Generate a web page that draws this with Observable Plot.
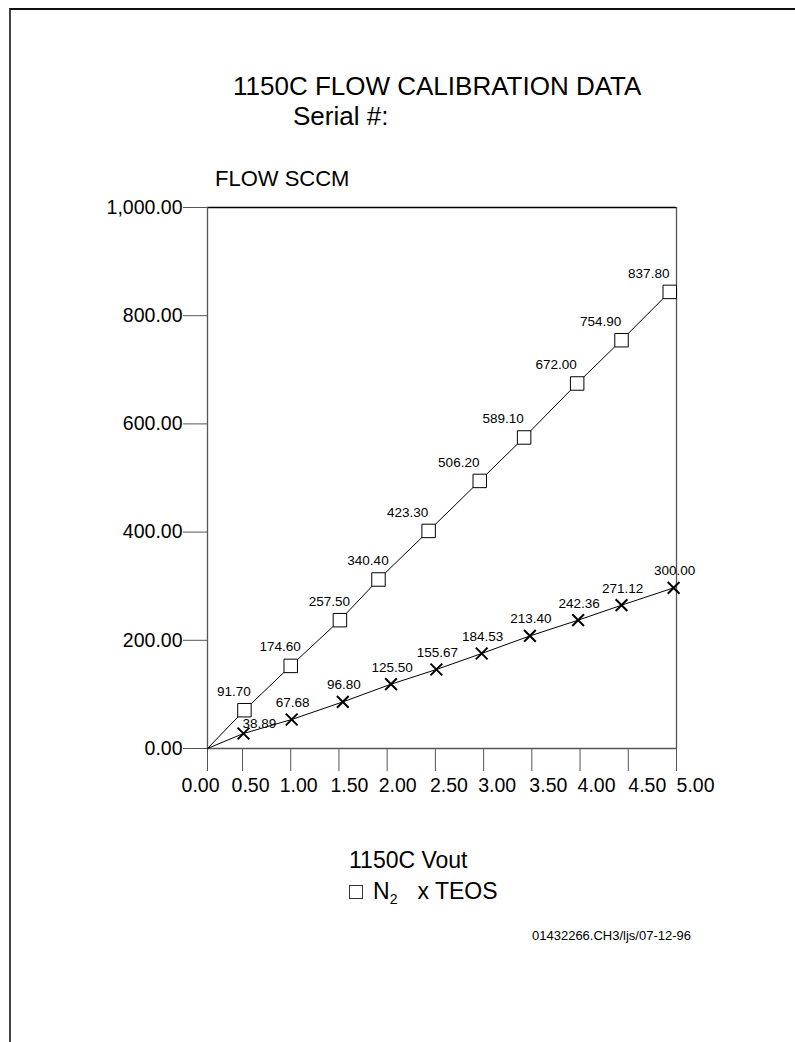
<!DOCTYPE html>
<html>
<head>
<meta charset="utf-8">
<script src="https://cdn.jsdelivr.net/npm/d3@7"></script>
<script src="https://cdn.jsdelivr.net/npm/@observablehq/plot@0.6"></script>
<style>
  body { margin: 0; background: #fff; font-family: Arial, "Liberation Sans", sans-serif; color: #000; }
  #page { position: relative; width: 795px; height: 1042px; overflow: hidden; }
  .border { position: absolute; left: 9px; top: 8px; right: -5px; bottom: -5px; border-left: 2px solid #444; border-top: 2px solid #111; }
  .t { position: absolute; white-space: nowrap; line-height: 1; }
  #chart { position: absolute; left: 0; top: 0; }
  .sw { display: inline-block; width: 12px; height: 12px; border: 1px solid #333; vertical-align: baseline; margin-right: 10px; }
  sub { font-size: 14px; vertical-align: -5px; line-height: 0; }
</style>
</head>
<body>
<div id="page">
  <div class="border"></div>
  <div id="chart"></div>
  <div class="t" style="left:233px; top:73px; font-size:26px;">1150C FLOW CALIBRATION DATA</div>
  <div class="t" style="left:293px; top:103px; font-size:26px;">Serial #:</div>
  <div class="t" style="left:215px; top:168px; font-size:22px;">FLOW SCCM</div>
  <div class="t" style="left:349px; top:849px; font-size:23px;">1150C Vout</div>
  <div class="t" style="left:349px; top:880px; font-size:23px;"><span class="sw"></span>N<sub>2</sub><span style="margin-left:20px">x TEOS</span></div>
  <div class="t" style="left:532px; top:929px; font-size:13px;">01432266.CH3/ljs/07-12-96</div>
</div>
<script>
// ---- data ----
const xTicks = [0, 0.5, 1, 1.5, 2, 2.5, 3, 3.5, 4, 4.5, 5];
const yTicks = [0, 200, 400, 600, 800, 1000];

// N2 series (Vout, plotted flow, printed label)
const n2Vout   = [0, 0.52, 1.00, 1.51, 1.91, 2.43, 2.96, 3.42, 3.97, 4.43, 4.93];
const n2Flow   = [0, 70.8, 152.7, 237.2, 312.4, 402.2, 494.6, 574.9, 674.7, 754.7, 844.0];
const n2Labels = ["", "91.70", "174.60", "257.50", "340.40", "423.30", "506.20", "589.10", "672.00", "754.90", "837.80"];

// TEOS series
const teosVout   = [0, 0.51, 1.01, 1.54, 2.04, 2.51, 2.98, 3.48, 3.98, 4.43, 4.97];
const teosFlow   = [0, 27.7, 53.6, 86.1, 118.9, 146.0, 175.6, 208.1, 237.2, 264.9, 296.9];
const teosLabels = ["", "38.89", "67.68", "96.80", "125.50", "155.67", "184.53", "213.40", "242.36", "271.12", "300.00"];

const n2 = n2Vout.map((v, i) => ({vout: v, flow: n2Flow[i], label: n2Labels[i], i}));
const teos = teosVout.map((v, i) => ({vout: v, flow: teosFlow[i], label: teosLabels[i], i}));

const fmtX = d3.format(".2f");
const fmtY = d3.format(",.2f");
const axisColor = "#555";

// tick labels are printed slightly right of their tick marks, drifting across the axis
const labelGroups = [
  {ticks: xTicks.filter(d => d === 0), dx: -7},
  {ticks: xTicks.filter(d => d > 0 && d <= 1), dx: 8},
  {ticks: xTicks.filter(d => d > 1 && d <= 2), dx: 10.5},
  {ticks: xTicks.filter(d => d > 2 && d <= 3), dx: 13.5},
  {ticks: xTicks.filter(d => d > 3 && d <= 4), dx: 16.5},
  {ticks: xTicks.filter(d => d > 4), dx: 19}
];

const chart = Plot.plot({
  width: 795,
  height: 800,
  marginLeft: 207,
  marginRight: 119,
  marginTop: 207,
  marginBottom: 52,
  style: {fontFamily: "Arial, 'Liberation Sans', sans-serif", color: "#000", background: "transparent", overflow: "visible"},
  x: {type: "linear", domain: [0, 0.5, 5], range: [207, 242, 676], axis: null, label: null},
  y: {domain: [0, 1000], axis: null, label: null},
  marks: [
    // frame
    Plot.ruleY([1000], {x1: 0, x2: 5, stroke: "#000", strokeWidth: 1.3}),
    Plot.ruleX([5], {y1: 0, y2: 1000, stroke: axisColor, strokeWidth: 1.3}),
    // y axis
    Plot.axisY(yTicks, {anchor: "left", label: null, tickSize: 24, tickPadding: 1, tickFormat: fmtY, fontSize: 19.5, stroke: axisColor, fill: "#000"}),
    // x axis ticks
    Plot.axisX(xTicks, {anchor: "bottom", label: null, tickSize: 23, fill: "none", stroke: axisColor}),
    // x axis labels
    ...labelGroups.map(g => Plot.axisX(g.ticks, {anchor: "bottom", label: null, tickSize: 0, tickPadding: 30, dx: g.dx, tickFormat: fmtX, fontSize: 19.5, fill: "#000"})),
    Plot.ruleX([0], {y1: 0, y2: 1000, stroke: axisColor, strokeWidth: 1.3}),
    Plot.ruleY([0], {x1: 0, x2: 5, stroke: axisColor, strokeWidth: 1.3}),
    // lines
    Plot.line(n2, {x: "vout", y: "flow", stroke: "#000", strokeWidth: 1}),
    Plot.line(teos, {x: "vout", y: "flow", stroke: "#000", strokeWidth: 1}),
    // markers
    Plot.dot(n2.filter(d => d.i > 0), {x: "vout", y: "flow", symbol: "square", r: 7.6, fill: "white", stroke: "#000", strokeWidth: 1}),
    Plot.dot(teos.filter(d => d.i > 0), {x: "vout", y: "flow", symbol: "times", r: 5.4, stroke: "#000", strokeWidth: 2}),
    // value labels
    Plot.text(n2.filter(d => d.i > 0 && d.i <= 4), {x: "vout", y: "flow", text: "label", dx: -10.5, dy: -19, fontSize: 13.5, fill: "#000"}),
    Plot.text(n2.filter(d => d.i > 4), {x: "vout", y: "flow", text: "label", dx: -21, dy: -18.5, fontSize: 13.5, fill: "#000"}),
    Plot.text(teos.filter(d => d.i === 1), {x: "vout", y: "flow", text: "label", dx: 16, dy: -10, fontSize: 13.5, fill: "#000"}),
    Plot.text(teos.filter(d => d.i > 1), {x: "vout", y: "flow", text: "label", dx: 1, dy: -17, fontSize: 13.5, fill: "#000"})
  ]
});
document.getElementById("chart").appendChild(chart);
</script>
</body>
</html>
